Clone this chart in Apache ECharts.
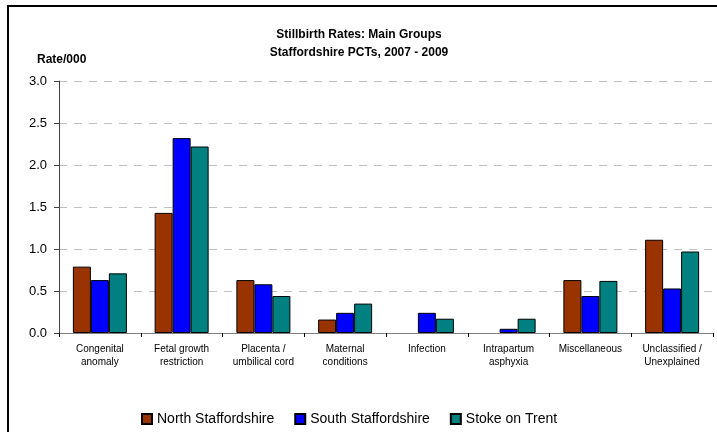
<!DOCTYPE html>
<html>
<head>
<meta charset="utf-8">
<script src="https://cdn.jsdelivr.net/npm/echarts@6/dist/echarts.min.js"></script>
<style>
  html, body { margin: 0; padding: 0; background: #fff; }
  #chart { width: 717px; height: 432px; }
</style>
</head>
<body>
<div id="chart"></div>
<script>
// categories and series values
var categories = [
    'Congenital\nanomaly', 'Fetal growth\nrestriction', 'Placenta /\numbilical cord',
    'Maternal\nconditions', 'Infection', 'Intrapartum\nasphyxia',
    'Miscellaneous', 'Unclassified /\nUnexplained'
];
var seriesNames = ['North Staffordshire', 'South Staffordshire', 'Stoke on Trent'];
var north = [0.79, 1.43, 0.63, 0.16, null, null, 0.63, 1.11];
var south = [0.63, 2.32, 0.58, 0.24, 0.24, 0.05, 0.44, 0.53];
var stoke = [0.71, 2.22, 0.44, 0.35, 0.17, 0.17, 0.62, 0.97];
var colors = ['#993300', '#0000ff', '#008080'];

var font = 'Arial, "Liberation Sans", sans-serif';
var chart = echarts.init(document.getElementById('chart'));

function makeBar(name, data, color) {
    return {
        name: name,
        type: 'bar',
        data: data,
        barWidth: 18,
        barGap: '0%',
        itemStyle: {
            color: color,
            borderColor: '#000',
            borderWidth: 1
        },
        emphasis: { disabled: true }
    };
}

var option = {
    animation: false,
    textStyle: { fontFamily: font },
    title: [{
        text: 'Stillbirth Rates: Main Groups\nStaffordshire PCTs, 2007 - 2009',
        left: 359,
        top: 26,
        padding: 0,
        textAlign: 'center',
        textStyle: { fontSize: 12, fontWeight: 'bold', color: '#000', lineHeight: 17.5, fontFamily: font }
    }, {
        text: 'Rate/000',
        left: 37,
        top: 52,
        padding: 0,
        textStyle: { fontSize: 12, fontWeight: 'bold', color: '#000', lineHeight: 16, fontFamily: font }
    }],
    legend: {
        data: seriesNames,
        left: 141,
        top: 412,
        padding: 0,
        icon: 'rect',
        itemWidth: 10,
        itemHeight: 10,
        itemGap: 20,
        textStyle: { fontSize: 14, color: '#000', fontFamily: font }
    },
    grid: { left: 59, right: 4, top: 81, bottom: 99 },
    xAxis: {
        type: 'category',
        data: categories,
        axisLine: { lineStyle: { color: '#808080', width: 1 } },
        axisTick: { show: true, length: 4, lineStyle: { color: '#000' } },
        axisLabel: { fontSize: 10, color: '#000', margin: 9, lineHeight: 13.5, interval: 0, fontFamily: font }
    },
    yAxis: {
        type: 'value',
        min: 0,
        max: 3,
        interval: 0.5,
        axisLine: { show: true, lineStyle: { color: '#404040', width: 1 } },
        axisTick: { show: true, length: 5, lineStyle: { color: '#404040' } },
        axisLabel: {
            fontSize: 13, color: '#000', margin: 12, fontFamily: font,
            formatter: function (v) { return v.toFixed(1); }
        },
        splitLine: { show: true, lineStyle: { color: '#c0c0c0', type: [8, 7], width: 1 } }
    },
    graphic: [{
        type: 'rect',
        shape: { x: 8, y: 6, width: 760, height: 480 },
        style: { fill: 'none', stroke: '#000', lineWidth: 2 },
        silent: true
    }],
    series: [
        makeBar(seriesNames[0], north, colors[0]),
        makeBar(seriesNames[1], south, colors[1]),
        makeBar(seriesNames[2], stoke, colors[2])
    ]
};

chart.setOption(option);
</script>
</body>
</html>
